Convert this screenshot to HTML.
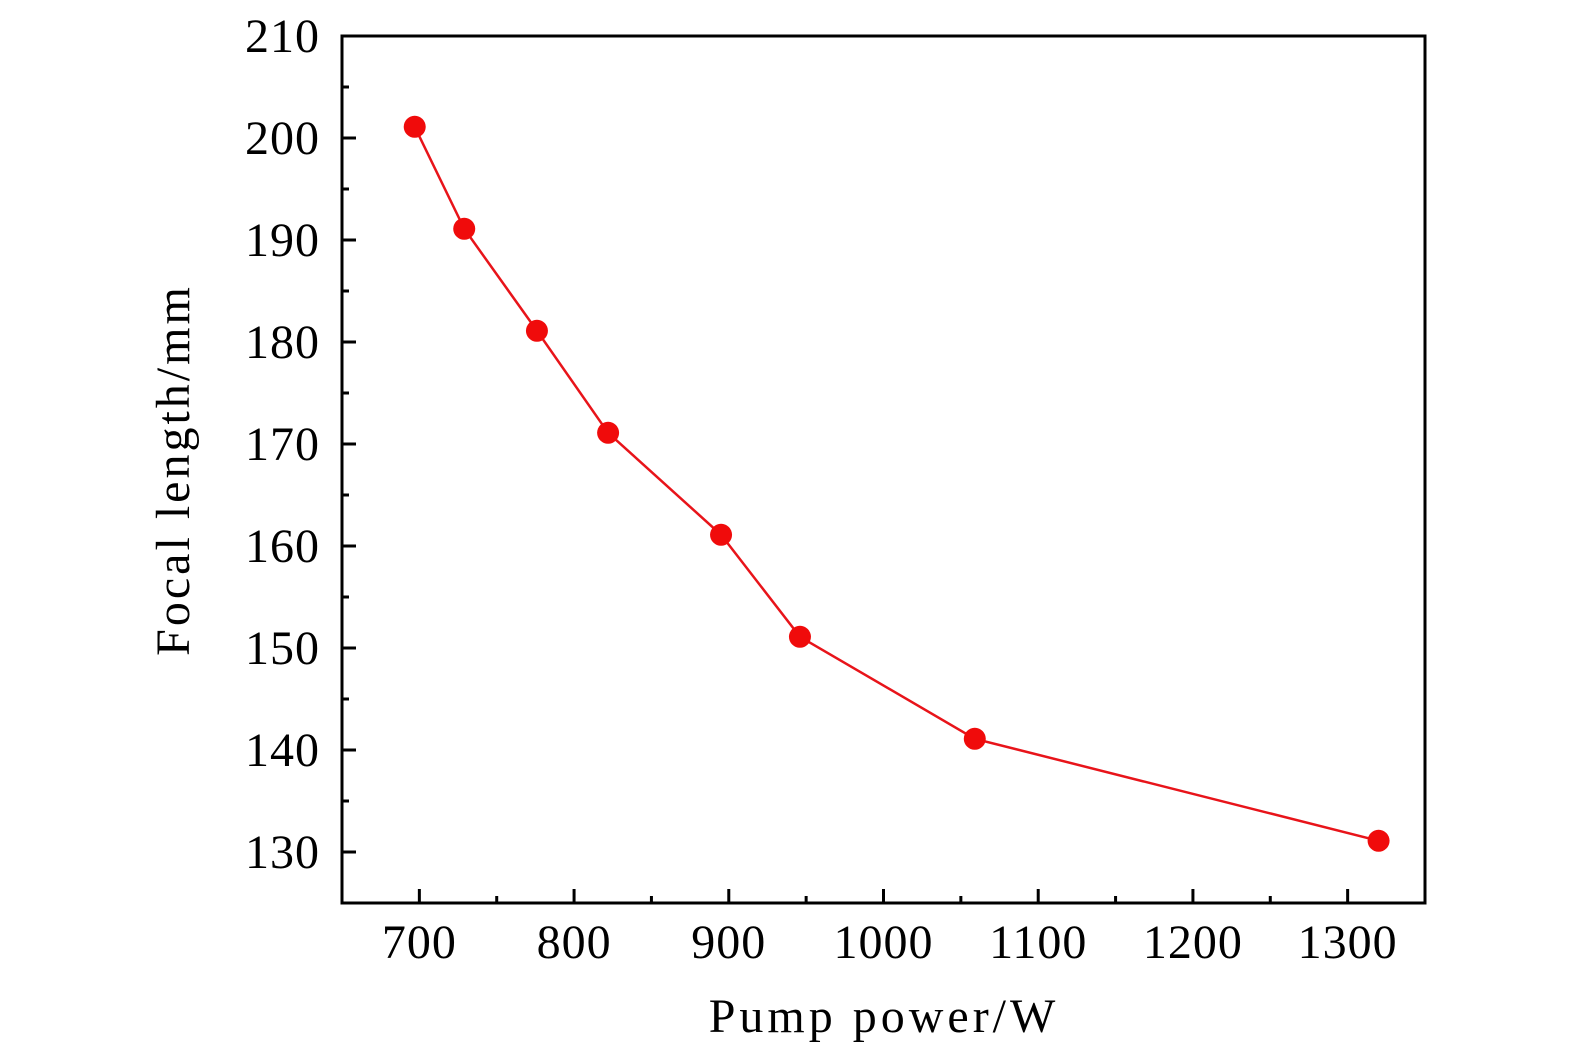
<!DOCTYPE html>
<html><head><meta charset="utf-8"><style>
html,body{margin:0;padding:0;background:#fff;}
svg{display:block;font-family:"Liberation Serif",serif;}
</style></head><body>
<svg id="chart" width="1575" height="1053">
<g id="ticks"></g>
<path id="line" fill="none" stroke="#e8141a" stroke-width="2.5"></path>
<g id="pts"></g>
<rect x="342" y="36" width="1083" height="867" fill="none" stroke="#000" stroke-width="3"></rect>
<text x="884" y="1032" font-size="48" text-anchor="middle" letter-spacing="4">Pump power/W</text>
<text transform="translate(189,470) rotate(-90)" font-size="48" text-anchor="middle" letter-spacing="3">Focal length/mm</text>
</svg>
<script>
const xValues=[697,729,776,822,895,946,1059,1320];
const yValues=[201.1,191.1,181.1,171.1,161.1,151.1,141.1,131.1];
const xTicks=[700,800,900,1000,1100,1200,1300];
const yTicks=[130,140,150,160,170,180,190,200,210];
const L=342,R=1425,T=36,B=903,X0=650,X1=1350,Y0=125,Y1=210;
const sx=v=>L+(v-X0)/(X1-X0)*(R-L);
const sy=v=>B-(v-Y0)/(Y1-Y0)*(B-T);
const NS="http://www.w3.org/2000/svg";
const tg=document.getElementById('ticks');
function mk(tag,attrs,parent){const e=document.createElementNS(NS,tag);for(const k in attrs)e.setAttribute(k,attrs[k]);parent.appendChild(e);return e;}
for(let v=X0;v<=X1;v+=50){const x=sx(v);const major=v%100===0;
const t=mk('line',{x1:x,x2:x,y1:B,y2:B-(major?14:7),stroke:'#000','stroke-width':3},tg);

}
for(let v=Y0;v<=Y1;v+=5){const y=sy(v);const major=v%10===0;
const t=mk('line',{x1:L,x2:L+(major?14:7),y1:y,y2:y,stroke:'#000','stroke-width':3},tg);

}
xTicks.forEach(v=>{const t=mk('text',{x:sx(v),y:958,'font-size':48,'text-anchor':'middle','letter-spacing':1},tg);t.textContent=v;

});
yTicks.forEach(v=>{const t=mk('text',{x:320,y:sy(v)+16,'font-size':48,'text-anchor':'end','letter-spacing':1},tg);t.textContent=v;

});
document.getElementById('line').setAttribute('d',xValues.map((v,i)=>(i?'L':'M')+sx(v)+','+sy(yValues[i])).join(' '));
const pg=document.getElementById('pts');
xValues.forEach((v,i)=>{const c=mk('circle',{cx:sx(v),cy:sy(yValues[i]),r:11,fill:'#f00b0b'},pg);

});
</script>
</body></html>
